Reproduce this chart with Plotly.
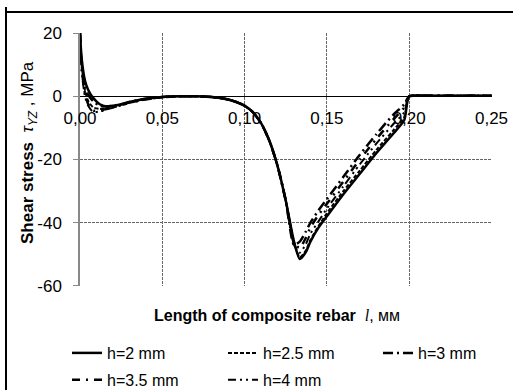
import plotly.graph_objects as go

# ---- data ----
x_len = [0, 0.001, 0.003, 0.005, 0.008, 0.012, 0.016, 0.02, 0.025, 0.03, 0.04, 0.05,
         0.06, 0.07, 0.08, 0.085, 0.09, 0.095, 0.10, 0.105, 0.11, 0.115, 0.12, 0.125,
         0.13, 0.1335, 0.137, 0.14, 0.145, 0.15, 0.16, 0.17, 0.18, 0.19, 0.197, 0.2,
         0.21, 0.22, 0.23, 0.24, 0.25]

tau_h2 = [20, 12, 5, 2, -0.5, -2.5, -3.2, -3.0, -2.5, -1.8, -0.8, -0.2,
          0, 0, -0.2, -0.5, -1.0, -1.8, -3.0, -5, -8.5, -14, -22, -33,
          -46, -51.5, -49.5, -46, -41.5, -38, -31, -24.5, -18, -12, -7.5, 0,
          0.2, 0.2, 0.2, 0.2, 0.2]
tau_h25 = [20, 10, 2, -1.5, -3.5, -4, -3.8, -3.3, -2.6, -1.9, -0.9, -0.3,
           0, 0, -0.2, -0.5, -1.0, -1.8, -3.0, -5, -8.5, -14, -22, -33,
           -46, -51, -49, -45.5, -41, -37, -30, -23.5, -17, -11, -6.5, 0,
           0.2, 0.2, 0.2, 0.2, 0.2]
tau_h3 = [20, 10, 3, 0.5, -1.5, -3, -3.2, -3, -2.5, -1.8, -0.8, -0.2,
          0, 0, -0.2, -0.5, -1.0, -1.8, -3.0, -5, -8.5, -14, -22, -33,
          -47, -46, -43, -40, -36, -32.5, -25.5, -18.5, -12, -6, -2.5, 0,
          0.2, 0.2, 0.2, 0.2, 0.2]
tau_h35 = [20, 9, 1, -2.5, -4.5, -4.5, -4, -3.5, -2.8, -2, -1, -0.3,
           0, 0, -0.2, -0.5, -1.0, -1.8, -3.0, -5, -8.5, -14, -22, -33,
           -46.5, -48, -45, -41.5, -37.5, -34, -27, -20, -13.5, -7.5, -3.5, 0,
           0.2, 0.2, 0.2, 0.2, 0.2]
tau_h4 = [20, 8, 0, -3, -5, -4.8, -4.2, -3.6, -2.9, -2.1, -1, -0.3,
          0, 0, -0.2, -0.5, -1.0, -1.8, -3.0, -5, -8.5, -14, -22, -33,
          -47, -49.5, -47, -43.5, -39.5, -35.5, -28.5, -21.5, -15, -9, -5, 0,
          0.2, 0.2, 0.2, 0.2, 0.2]

series_names = ["h=2 mm", "h=2.5 mm", "h=3 mm", "h=3.5 mm", "h=4 mm"]
x_tick_vals = [0, 0.05, 0.10, 0.15, 0.20, 0.25]
x_tick_text = ["0,00", "0,05", "0,10", "0,15", "0,20", "0,25"]
y_tick_vals = [20, 0, -20, -40, -60]
y_tick_text = ["20", "0", "-20", "-40", "-60"]

# ---- styles ----
dashes = ["solid", "4px,2px", "10px,4px,2px,4px", "8px,6px,2px,6px", "8px,4px,2px,4px,2px,4px"]
widths = [2.5, 2.0, 2.5, 2.5, 2.0]
legend_ids = ["legend", "legend2", "legend3", "legend", "legend2"]
all_tau = [tau_h2, tau_h25, tau_h3, tau_h35, tau_h4]

FONT = "Liberation Sans, Arial, sans-serif"

fig = go.Figure()
for name, ys, d, w, lg in zip(series_names, all_tau, dashes, widths, legend_ids):
    fig.add_trace(go.Scatter(x=x_len, y=ys, mode="lines", name=name, legend=lg, legendgroup=name,
                             line=dict(color="black", width=w, dash=d, shape="spline", smoothing=0.6)))

W, H = 513, 390
L, R, T, B = 80, 21, 33, 104
pw, ph = W - L - R, H - T - B

def px_x(p):
    return (p - L) / pw

def px_y(p):
    return (H - B - p) / ph

leg_common = dict(orientation="v", yanchor="top", xanchor="left", y=px_y(336),
                  font=dict(size=16), bgcolor="rgba(0,0,0,0)", itemwidth=30,
                  tracegroupgap=3)

fig.update_layout(
    width=W, height=H,
    margin=dict(l=L, r=R, t=T, b=B, autoexpand=False),
    paper_bgcolor="white", plot_bgcolor="white",
    font=dict(family=FONT, size=16, color="black"),
    showlegend=True,
    legend=dict(x=px_x(67), **leg_common),
    legend2=dict(x=px_x(223), **leg_common),
    legend3=dict(x=px_x(378), **leg_common),
    xaxis=dict(range=[0, 0.2503], tickvals=x_tick_vals, ticktext=x_tick_text,
               anchor="free", position=60.05 / 80.1, showline=True, linecolor="black", linewidth=1.3,
               showgrid=True, gridcolor="#666", griddash="3px,1px", gridwidth=1,
               zeroline=False, ticks="", ticklabelstandoff=6,
               tickfont=dict(size=17)),
    yaxis=dict(range=[-60.05, 20.05], tickvals=y_tick_vals, ticktext=y_tick_text,
               showline=True, linecolor="#888", linewidth=1.5,
               showgrid=True, gridcolor="#666", griddash="3px,1px", gridwidth=1,
               zeroline=False, ticks="outside", ticklen=5, tickcolor="#888",
               ticklabelstandoff=8, tickfont=dict(size=17)),
)

fig.add_annotation(
    xref="paper", yref="paper", x=px_x(277), y=px_y(315), xanchor="center", yanchor="middle",
    showarrow=False,
    text="<b>Length of composite rebar</b>  <span style='font-family:Liberation Serif, Times New Roman, serif'><i>l</i></span>, мм",
    font=dict(size=16),
)
fig.add_annotation(
    xref="paper", yref="paper", x=px_x(29), y=px_y(153), xanchor="center", yanchor="middle",
    showarrow=False, textangle=-90,
    text="<b>Shear stress</b>  <i>τ<sub>YZ</sub></i> , MPa",
    font=dict(size=17),
)

# outer frame (only the left and top edges fall inside the picture)
fig.add_shape(type="line", xref="paper", yref="paper",
              x0=px_x(6), x1=px_x(6), y0=px_y(400), y1=px_y(7),
              line=dict(color="black", width=2), layer="above")
fig.add_shape(type="line", xref="paper", yref="paper",
              x0=px_x(5), x1=px_x(513), y0=px_y(12), y1=px_y(12),
              line=dict(color="black", width=2), layer="above")

fig.write_html("out.html", config={"displayModeBar": False})
